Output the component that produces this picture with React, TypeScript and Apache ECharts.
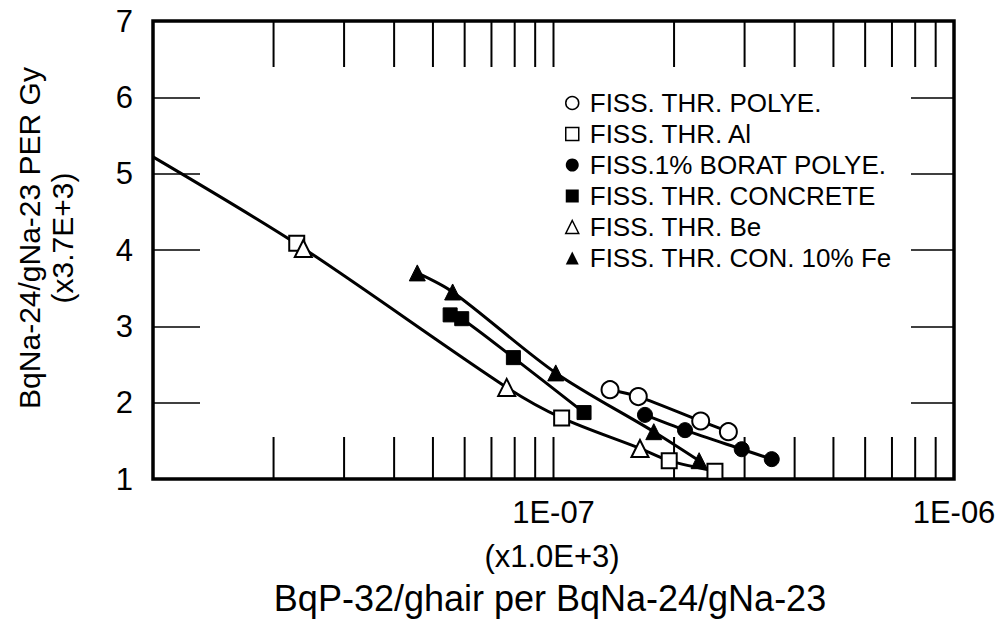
import { useEffect, useRef } from "react";
import * as echarts from "echarts";

// Measured activation ratios (x: BqP-32/ghair per BqNa-24/gNa-23, y: BqNa-24/gNa-23 per Gy)
const polyeX = [1.384e-7, 1.628e-7, 2.331e-7, 2.733e-7];
const polyeY = [2.17, 2.08, 1.76, 1.62];

const alX = [2.285e-8, 1.048e-7, 1.945e-7, 2.53e-7];
const alY = [4.09, 1.8, 1.24, 1.1];

const boratX = [1.692e-7, 2.13e-7, 2.951e-7, 3.507e-7];
const boratY = [1.84, 1.64, 1.39, 1.26];

const concreteX = [5.52e-8, 5.9e-8, 7.94e-8, 1.192e-7];
const concreteY = [3.15, 3.1, 2.59, 1.87];

const beX = [2.373e-8, 7.64e-8, 1.644e-7];
const beY = [4.02, 2.2, 1.4];

const feX = [4.57e-8, 5.6e-8, 1.013e-7, 1.78e-7, 2.31e-7];
const feY = [3.7, 3.45, 2.39, 1.62, 1.24];

// Common fitted curve through the Al and Be points, starting at the left frame
const alBeFitX = [1e-8, 2.33e-8, 7.64e-8, 1.048e-7, 1.644e-7, 1.945e-7, 2.53e-7];
const alBeFitY = [5.22, 4.05, 2.2, 1.8, 1.4, 1.24, 1.1];

// Log-decade tick positions on the frame (2..10 per decade)
const xFrameTicks = [
  2e-8, 3e-8, 4e-8, 5e-8, 6e-8, 7e-8, 8e-8, 9e-8, 1e-7,
  2e-7, 3e-7, 4e-7, 5e-7, 6e-7, 7e-7, 8e-7, 9e-7,
];

const legendNames = [
  "FISS. THR. POLYE.",
  "FISS. THR. Al",
  "FISS.1% BORAT POLYE.",
  "FISS. THR. CONCRETE",
  "FISS. THR. Be",
  "FISS. THR. CON. 10% Fe",
];

const FONT = "'Liberation Sans', Arial, Helvetica, sans-serif";

const zip = (xs: number[], ys: number[]) => xs.map((x, i) => [x, ys[i]]);

const openStyle = { color: "#fff", borderColor: "#000", borderWidth: 2, opacity: 1 };
const filledStyle = { color: "#000", borderColor: "#000", borderWidth: 1, opacity: 1 };
const openLegend = { color: "#fff", borderColor: "#000", borderWidth: 1.5, opacity: 1 };
const filledLegend = { color: "#000", borderColor: "#000", borderWidth: 0, opacity: 1 };

function curve(name: string, xs: number[], ys: number[]) {
  return {
    name,
    type: "line",
    data: zip(xs, ys),
    smooth: 0.3,
    showSymbol: false,
    symbol: "none",
    lineStyle: { color: "#000", width: 3 },
    z: 2,
    silent: true,
  };
}

function markers(name: string, xs: number[], ys: number[], symbol: string, size: number, open: boolean) {
  return {
    name,
    type: "scatter",
    data: zip(xs, ys),
    symbol,
    symbolSize: size,
    itemStyle: open ? openStyle : filledStyle,
    z: 4,
    silent: true,
  };
}

export default function App() {
  const ref = useRef<HTMLDivElement>(null);

  useEffect(() => {
    if (!ref.current) return;
    const chart = echarts.init(ref.current, undefined, { renderer: "svg" });

    const option: any = {
      animation: false,
      backgroundColor: "#fff",
      grid: {
        left: 153,
        top: 21,
        right: 45,
        bottom: 142,
        show: true,
        borderColor: "#000",
        borderWidth: 3.5,
        backgroundColor: "transparent",
      },
      xAxis: {
        type: "log",
        logBase: 10,
        min: 1e-8,
        max: 1e-6,
        axisLine: { show: false },
        axisTick: { show: false },
        splitLine: { show: false },
        minorTick: { show: false },
        axisLabel: {
          color: "#000",
          fontFamily: FONT,
          fontSize: 31,
          margin: 18,
          showMinLabel: false,
          formatter: (v: number) => {
            const e = Math.round(Math.log10(v));
            if (e <= -8) return "";
            return "1E-" + String(-e).padStart(2, "0");
          },
        },
      },
      yAxis: [
        {
          type: "value",
          min: 1,
          max: 7,
          interval: 1,
          axisLine: { show: false },
          splitLine: { show: false },
          axisTick: { show: true, inside: true, length: 47, lineStyle: { color: "#000", width: 1.5 } },
          axisLabel: { color: "#000", fontFamily: FONT, fontSize: 31, margin: 20 },
        },
        {
          type: "value",
          position: "right",
          min: 1,
          max: 7,
          interval: 1,
          axisLine: { show: false },
          splitLine: { show: false },
          axisTick: { show: true, inside: true, length: 43, lineStyle: { color: "#000", width: 1.5 } },
          axisLabel: { show: false },
        },
      ],
      legend: {
        orient: "vertical",
        left: 560,
        top: 85,
        itemWidth: 13,
        itemHeight: 13,
        itemGap: 5,
        selectedMode: false,
        textStyle: { color: "#000", fontFamily: FONT, fontSize: 26, lineHeight: 26, padding: [0, 0, 0, 6] },
        data: [
          { name: legendNames[0], icon: "circle", itemStyle: openLegend },
          { name: legendNames[1], icon: "rect", itemStyle: openLegend },
          { name: legendNames[2], icon: "circle", itemStyle: filledLegend },
          { name: legendNames[3], icon: "rect", itemStyle: filledLegend },
          { name: legendNames[4], icon: "triangle", itemStyle: openLegend },
          { name: legendNames[5], icon: "triangle", itemStyle: filledLegend },
        ],
      },
      graphic: [
        {
          type: "text",
          x: 46,
          y: 238,
          rotation: Math.PI / 2,
          style: {
            text: "BqNa-24/gNa-23 PER Gy\n(x3.7E+3)",
            font: `30px ${FONT}`,
            fill: "#000",
            align: "center",
            verticalAlign: "middle",
            lineHeight: 33,
          },
        },
        {
          type: "text",
          x: 552,
          y: 556,
          style: { text: "(x1.0E+3)", font: `31px ${FONT}`, fill: "#000", align: "center", verticalAlign: "middle" },
        },
        {
          type: "text",
          x: 550,
          y: 598,
          style: {
            text: "BqP-32/ghair per BqNa-24/gNa-23",
            font: `36px ${FONT}`,
            fill: "#000",
            align: "center",
            verticalAlign: "middle",
          },
        },
      ],
      series: [
        {
          name: "frame ticks",
          type: "custom",
          data: xFrameTicks.map((v) => [v, 1]),
          encode: { x: 0, y: 1 },
          silent: true,
          z: 1,
          renderItem: (_p: any, api: any) => {
            const v = api.value(0);
            const b = api.coord([v, 1]);
            const t = api.coord([v, 7]);
            const style = { stroke: "#000", lineWidth: 2 };
            return {
              type: "group",
              children: [
                { type: "line", shape: { x1: b[0], y1: b[1], x2: b[0], y2: b[1] - 42 }, style },
                { type: "line", shape: { x1: t[0], y1: t[1], x2: t[0], y2: t[1] + 46 }, style },
              ],
            };
          },
        },
        curve("Al/Be fit", alBeFitX, alBeFitY),
        curve("polye fit", polyeX, polyeY),
        curve("borat fit", boratX, boratY),
        curve("concrete fit", concreteX, concreteY),
        curve("fe fit", feX, feY),
        markers(legendNames[0], polyeX, polyeY, "circle", 17, true),
        markers(legendNames[1], alX, alY, "rect", 15, true),
        markers(legendNames[2], boratX, boratY, "circle", 15, false),
        markers(legendNames[3], concreteX, concreteY, "rect", 14, false),
        markers(legendNames[4], beX, beY, "triangle", 17, true),
        markers(legendNames[5], feX, feY, "triangle", 16, false),
      ],
    };

    chart.setOption(option);
    return () => chart.dispose();
  }, []);

  return (
    <div
      ref={ref}
      style={{ position: "fixed", left: 0, top: 0, width: 999, height: 621, background: "#fff" }}
    />
  );
}
